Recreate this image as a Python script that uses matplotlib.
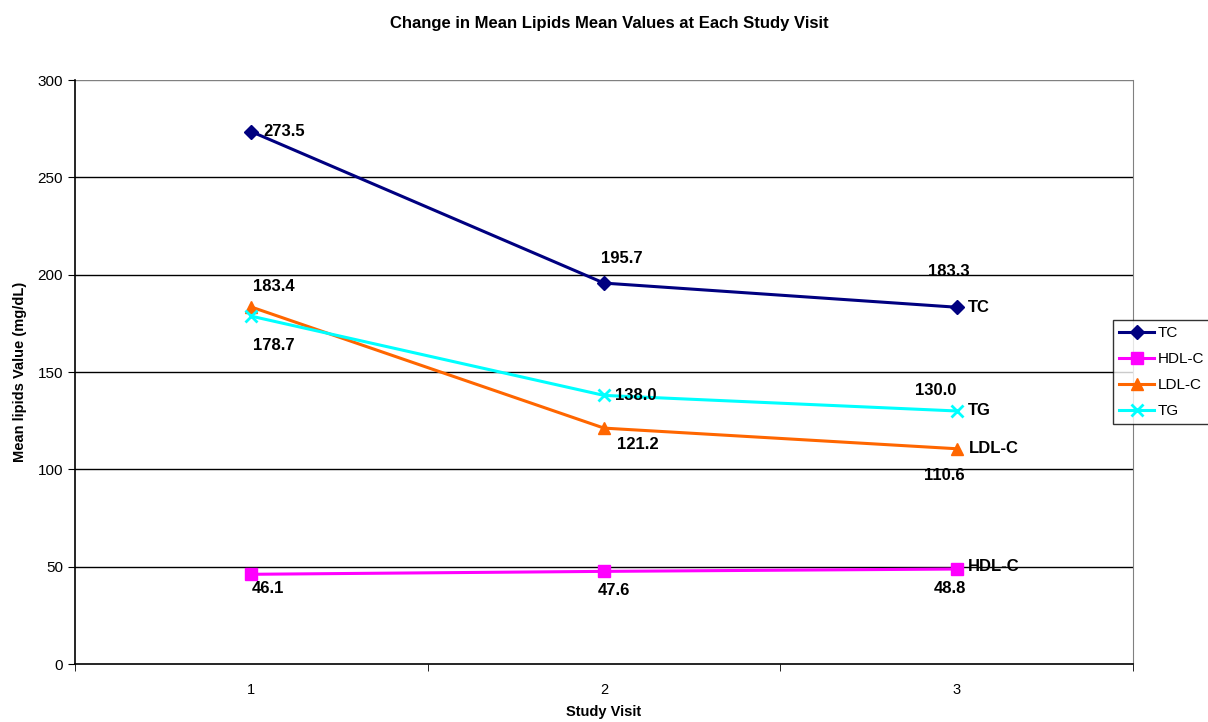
import numpy as np
import matplotlib.pyplot as plt

plt.rcParams['font.family'] = ['Liberation Sans', 'DejaVu Sans']

# data
visits = [1, 2, 3]
visit_labels = ['1', '2', '3']
tc = [273.5, 195.7, 183.3]
hdl = [46.1, 47.6, 48.8]
ldl = [183.4, 121.2, 110.6]
tg = [178.7, 138.0, 130.0]

series = [
    ('TC', tc, '#000080', 'D', 7),
    ('HDL-C', hdl, '#FF00FF', 's', 8),
    ('LDL-C', ldl, '#FF6600', '^', 9),
    ('TG', tg, '#00FFFF', 'x', 8),
]

# label offsets (points) for each value label
offsets = {
    'TC': [(9, 0, 'left'), (13, 18, 'center'), (-6, 26, 'center')],
    'HDL-C': [(12, -10, 'center'), (7, -14, 'center'), (-5, -14, 'center')],
    'LDL-C': [(16, 15, 'center'), (24, -12, 'center'), (-9, -19, 'center')],
    'TG': [(16, -21, 'center'), (8, 0, 'left'), (-15, 15, 'center')],
}
name_offsets = {'TC': (8, 0), 'HDL-C': (8, 2), 'LDL-C': (9, 0), 'TG': (8, 0)}

fig = plt.figure(figsize=(12.08, 7.22), dpi=100)
ax = fig.add_axes([0.0621, 0.0803, 0.8758, 0.8088])

for y in range(50, 301, 50):
    ax.axhline(y, color='black' if y < 300 else '#808080', lw=1, zorder=0)

for name, vals, col, mk, ms in series:
    ax.plot(visits, vals, color=col, marker=mk, markersize=ms, lw=2.2,
            mew=2 if mk == 'x' else 1, label=name, zorder=3)
    for i, v in enumerate(vals):
        dx, dy, ha = offsets[name][i]
        ax.annotate(f'{v:.1f}', (visits[i], v), xytext=(dx, dy),
                    textcoords='offset points', ha=ha, va='center',
                    fontsize=12, fontweight='bold', zorder=4)
    dx, dy = name_offsets[name]
    ax.annotate(name, (visits[-1], vals[-1]), xytext=(dx, dy),
                textcoords='offset points', ha='left', va='center',
                fontsize=12, fontweight='bold', zorder=4)

ax.set_xlim(0.5, 3.5)
ax.set_ylim(0, 300)
ax.set_yticks(range(0, 301, 50))
ax.set_xticks(visits)
ax.set_xticklabels(visit_labels)
ax.set_xticks([0.5, 1.5, 2.5, 3.5], minor=True)
ax.tick_params(axis='x', which='major', length=0, pad=14, labelsize=10.5)
ax.tick_params(axis='x', which='minor', length=5, direction='out')
ax.tick_params(axis='y', length=5, labelsize=11)

ax.spines['top'].set_visible(False)
ax.spines['right'].set_color('#808080')
ax.spines['left'].set_linewidth(1.2)
ax.spines['bottom'].set_linewidth(1.2)

ax.set_ylabel('Mean lipids Value (mg/dL)', fontsize=10.5, fontweight='bold', labelpad=8)
fig.text(0.5, 1 - 712 / 722, 'Study Visit', ha='center', va='center',
         fontsize=10.5, fontweight='bold')
fig.text(0.504, 0.968, 'Change in Mean Lipids Mean Values at Each Study Visit',
         ha='center', va='center', fontsize=12, fontweight='bold')

leg = ax.legend(loc='upper left', bbox_to_anchor=(1113 / 1208, 1 - 320 / 722),
                bbox_transform=fig.transFigure, frameon=True, fancybox=False,
                edgecolor='black', fontsize=11, borderpad=0.4,
                handlelength=2.3, handletextpad=0.2, labelspacing=0.78,
                borderaxespad=0)
leg.get_frame().set_linewidth(1)

fig.savefig('out.png', dpi=100)
